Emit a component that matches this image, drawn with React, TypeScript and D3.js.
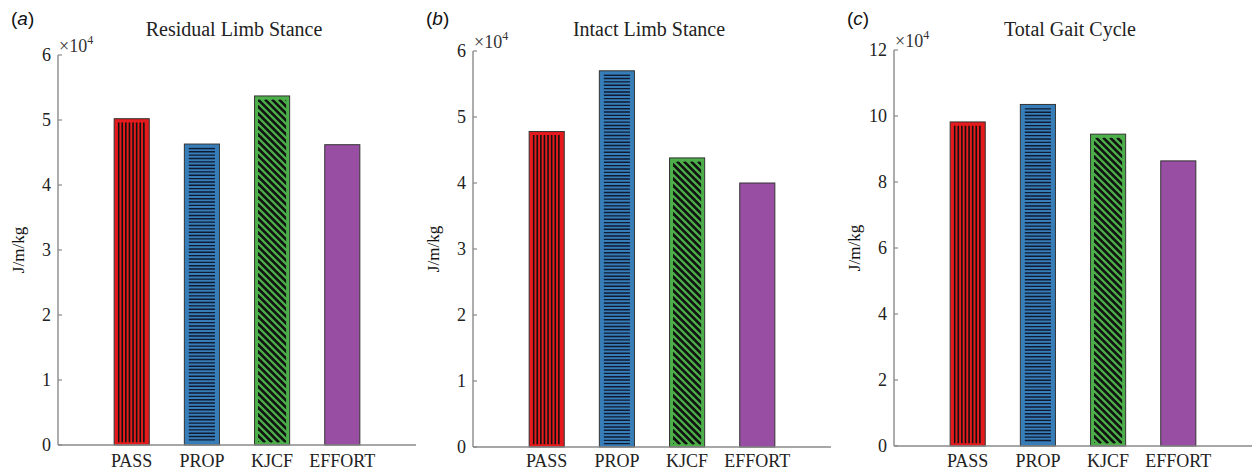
import React from 'react';
import * as d3 from 'd3';

const categories = ['PASS', 'PROP', 'KJCF', 'EFFORT'];
const residualValues = [5.02, 4.63, 5.37, 4.62];
const intactValues = [4.78, 5.70, 4.38, 4.0];
const totalValues = [9.82, 10.35, 9.45, 8.64];
const residualTicks = [0, 1, 2, 3, 4, 5, 6];
const intactTicks = [0, 1, 2, 3, 4, 5, 6];
const totalTicks = [0, 2, 4, 6, 8, 10, 12];
const titles = ['Residual Limb Stance', 'Intact Limb Stance', 'Total Gait Cycle'];
const panelLetters = ['a', 'b', 'c'];
const yLabel = 'J/m/kg';
const exponent = '4';
const barColors = ['#e41a1c', '#377eb8', '#4daf4a', '#984ea3'];
const hatchKinds = ['vertical', 'horizontal', 'diagonal', 'none'];

const panels = [
  { values: residualValues, ticks: residualTicks, x0: 58, yTop: 55, yZero: 445 },
  { values: intactValues, ticks: intactTicks, x0: 473, yTop: 51, yZero: 447 },
  { values: totalValues, ticks: totalTicks, x0: 894, yTop: 50, yZero: 446 },
];

const SERIF = 'Liberation Serif, Times New Roman, serif';
const SANS = 'Liberation Sans, Arial, sans-serif';
const AXIS = '#8a8a8a';

function Hatch({ kind, x, y, w, h, id }: any) {
  const inset = 3.5;
  const x1 = x + inset, x2 = x + w - inset, y1 = y + inset, y2 = y + h - 2.5;
  if (kind === 'none' || x2 <= x1 || y2 <= y1) return null;
  const lines: any[] = [];
  if (kind === 'vertical') {
    d3.range(x1 + 1, x2, 3.6).forEach((xx, i) =>
      lines.push(<line key={i} x1={xx} x2={xx} y1={y1} y2={y2} stroke="#111" strokeWidth={1.6} />)
    );
  } else if (kind === 'horizontal') {
    d3.range(y1 + 0.9, y2, 3.35).forEach((yy, i) =>
      lines.push(<line key={i} x1={x1 + 1} x2={x2 - 1} y1={yy} y2={yy} stroke="#111a33" strokeWidth={1.4} />)
    );
  } else if (kind === 'diagonal') {
    const H = y2 - y1;
    d3.range(x1 - H, x2 + 8, 7).forEach((t, i) =>
      lines.push(<line key={i} x1={t} x2={t + H} y1={y1} y2={y2} stroke="#111" strokeWidth={2.6} />)
    );
  }
  return (
    <g>
      <clipPath id={id}>
        <rect x={x1} y={y1} width={x2 - x1} height={y2 - y1} />
      </clipPath>
      <g clipPath={`url(#${id})`}>{lines}</g>
    </g>
  );
}

function Panel({ cfg, idx }: any) {
  const { values, ticks, x0, yTop, yZero } = cfg;
  const axisLen = 358;
  const x = d3.scaleLinear().domain([-0.05, 5.05]).range([x0, x0 + axisLen]);
  const yMax = ticks[ticks.length - 1];
  const y = d3.scaleLinear().domain([0, yMax]).range([yZero, yTop]);
  const bw = x(0.5) - x(0);
  const mid = (yTop + yZero) / 2;
  return (
    <g>
      <text x={x0 - 47} y={25} fontFamily={SANS} fontSize={19} fill="#111">
        (<tspan fontStyle="italic">{panelLetters[idx]}</tspan>)
      </text>
      <text x={x0 + 176} y={36} textAnchor="middle" fontFamily={SERIF} fontSize={20} fill="#222">
        {titles[idx]}
      </text>
      {values.map((v: number, i: number) => {
        const cx = x(i + 1);
        const bx = cx - bw / 2;
        const by = y(v);
        const bh = yZero - by;
        return (
          <g key={i}>
            <rect x={bx} y={by} width={bw} height={bh} fill={barColors[i]} stroke="#333" strokeWidth={1} />
            <Hatch kind={hatchKinds[i]} x={bx} y={by} w={bw} h={bh} id={`h${idx}-${i}`} />
          </g>
        );
      })}
      <line x1={x0} x2={x0} y1={yTop} y2={yZero} stroke={AXIS} strokeWidth={1.4} />
      <line x1={x0} x2={x0 + axisLen} y1={yZero} y2={yZero} stroke={AXIS} strokeWidth={1.4} />
      {ticks.map((t: number) => (
        <g key={t}>
          <line x1={x0} x2={x0 + 4} y1={y(t)} y2={y(t)} stroke={AXIS} strokeWidth={1.2} />
          <text x={x0 - 7} y={y(t)} dy="0.36em" textAnchor="end" fontFamily={SERIF} fontSize={18} fill="#222">
            {t}
          </text>
        </g>
      ))}
      <text x={x0 + 1} y={yTop - 3} fontFamily={SERIF} fontSize={18} fill="#333">
        ×10<tspan dy={-8} fontSize={12}>{exponent}</tspan>
      </text>
      {categories.map((c, i) => (
        <text key={c} x={x(i + 1)} y={467} textAnchor="middle" fontFamily={SERIF} fontSize={18} fill="#222">
          {c}
        </text>
      ))}
      <text
        transform={`translate(${x0 - 40},${mid}) rotate(-90)`}
        dy="0.35em"
        textAnchor="middle"
        fontFamily={SERIF}
        fontSize={17}
        fill="#111"
      >
        {yLabel}
      </text>
    </g>
  );
}

export default function App() {
  return (
    <svg
      width={1252}
      height={474}
      style={{ position: 'absolute', left: 0, top: 0, display: 'block', background: '#fff' }}
    >
      <rect x={0} y={0} width={1252} height={474} fill="#fff" />
      {panels.map((p, i) => (
        <Panel key={i} cfg={p} idx={i} />
      ))}
    </svg>
  );
}
